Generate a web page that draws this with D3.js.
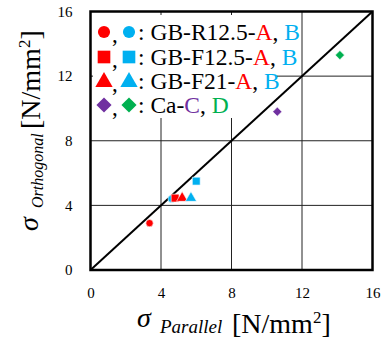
<!DOCTYPE html>
<html>
<head>
<meta charset="utf-8">
<script src="https://cdn.jsdelivr.net/npm/d3@7"></script>
<style>
  html, body { margin: 0; padding: 0; background: #fff; }
  svg { display: block; }
  svg text { font-family: "Liberation Serif", "Times New Roman", serif; }
</style>
</head>
<body>
<svg id="chart" width="385" height="338"></svg>
<script>
// Tick values for both axes
const ticks = [0, 4, 8, 12, 16];

// Specimen groups: parallel vs orthogonal strength [N/mm2]
const groupNames = ["GB-R12.5", "GB-F12.5", "GB-F21", "Ca"];
const shapes = ["circle", "square", "triangle", "diamond"];
const seriesA = [
  { group: "GB-R12.5", x: 3.35, y: 2.9 },
  { group: "GB-F12.5", x: 4.8, y: 4.45 },
  { group: "GB-F21", x: 5.2, y: 4.45 }
];
const seriesB = [
  { group: "GB-R12.5", x: 4.6, y: 4.4 },
  { group: "GB-F12.5", x: 6.0, y: 5.5 },
  { group: "GB-F21", x: 5.7, y: 4.45 }
];
const seriesC = [{ group: "Ca", x: 10.6, y: 9.8 }];
const seriesD = [{ group: "Ca", x: 14.15, y: 13.3 }];

const colA = "#ff0000", colB = "#00b0f0", colC = "#7030a0", colD = "#00b050";

const svg = d3.select("#chart");
const x = d3.scaleLinear().domain([0, 16]).range([90.5, 372.5]);
const y = d3.scaleLinear().domain([0, 16]).range([270, 11.5]);

// grid
const grid = svg.append("g");
grid.selectAll(".gx").data(ticks.slice(1, -1)).join("line")
  .attr("x1", d => x(d)).attr("x2", d => x(d))
  .attr("y1", y(16)).attr("y2", y(0))
  .attr("stroke", "#222").attr("stroke-width", 1);
grid.selectAll(".gy").data(ticks.slice(1, -1)).join("line")
  .attr("y1", d => y(d)).attr("y2", d => y(d))
  .attr("x1", x(0)).attr("x2", x(16))
  .attr("stroke", "#222").attr("stroke-width", 1);

// legend background
svg.append("rect").attr("x", 93).attr("y", 15).attr("width", 184).attr("height", 103).attr("fill", "#fff");

// 1:1 line
svg.append("line")
  .attr("x1", x(0)).attr("y1", y(0)).attr("x2", x(16)).attr("y2", y(16))
  .attr("stroke", "#000").attr("stroke-width", 2);

// frame
svg.append("rect")
  .attr("x", x(0)).attr("y", y(16))
  .attr("width", x(16) - x(0)).attr("height", y(0) - y(16))
  .attr("fill", "none").attr("stroke", "#000").attr("stroke-width", 2.5);

// axes tick labels via d3 axes
const xAxis = svg.append("g").attr("transform", `translate(0,${y(0) + 17})`)
  .call(d3.axisBottom(x).tickValues(ticks).tickSize(0).tickPadding(0));
const yAxis = svg.append("g").attr("transform", `translate(${x(0) - 18},0)`)
  .call(d3.axisLeft(y).tickValues(ticks).tickSize(0).tickPadding(0));
[xAxis, yAxis].forEach(a => {
  a.attr("font-family", null);
  a.select(".domain").remove();
  a.selectAll("text").style("font-family", "'Liberation Serif', serif").style("font-size", "15px").attr("fill", "#000");
});

// marker paths; diamonds are squares turned by 45 degrees
function markerPath(shape, size) {
  if (shape === "diamond") return d3.symbol().type(d3.symbolSquare).size(size)();
  const t = { circle: d3.symbolCircle, square: d3.symbolSquare, triangle: d3.symbolTriangle }[shape];
  return d3.symbol().type(t).size(size)();
}
const rot = shape => shape === "diamond" ? " rotate(45)" : "";
const plotSize = { circle: 42, square: 62, triangle: 55, diamond: 42 };
const shapeOf = g => shapes[groupNames.indexOf(g)];

function drawSeries(data, color) {
  svg.append("g").selectAll("path").data(data).join("path")
    .attr("transform", d => `translate(${x(d.x)},${y(d.y)})` + rot(shapeOf(d.group)))
    .attr("d", d => markerPath(shapeOf(d.group), plotSize[shapeOf(d.group)]))
    .attr("fill", color)
    .attr("stroke", "#fff").attr("stroke-width", 0.6);
}
drawSeries(seriesB.filter(d => d.group === "GB-R12.5"), colB);
drawSeries(seriesA, colA);
drawSeries(seriesB.filter(d => d.group !== "GB-R12.5"), colB);
drawSeries(seriesC, colC);
drawSeries(seriesD, colD);

// legend
const legendLetters = [["A", "B"], ["A", "B"], ["A", "B"], ["C", "D"]];
const legendCols = [[colA, colB], [colA, colB], [colA, colB], [colC, colD]];
const legendSize = { circle: 115, square: 160, triangle: 130, diamond: 115 };
const rowY = [32, 57, 81, 105];
groupNames.forEach((g, i) => {
  const sh = shapes[i];
  const cy = rowY[i];
  [104, 129].forEach((cx, k) => {
    svg.append("path")
      .attr("transform", `translate(${cx},${cy + (sh === "triangle" ? 1 : 0)})` + rot(sh))
      .attr("d", markerPath(sh, legendSize[sh]))
      .attr("fill", legendCols[i][k]);
  });
  svg.append("text").attr("x", 112).attr("y", cy + 10).style("font-size", "23px").text(",");
  const t = svg.append("text").attr("x", 138).attr("y", cy + 8).style("font-size", "23.5px");
  t.append("tspan").text(": " + g + "-");
  t.append("tspan").attr("fill", legendCols[i][0]).text(legendLetters[i][0]);
  t.append("tspan").text(", ");
  t.append("tspan").attr("fill", legendCols[i][1]).text(legendLetters[i][1]);
});

// x axis title
svg.append("text").attr("x", 137).attr("y", 327).style("font-size", "28px").style("font-style", "italic").text("σ");
svg.append("text").attr("x", 160).attr("y", 333).style("font-size", "19px").style("font-style", "italic").text("Parallel");
const xu = svg.append("text").attr("x", 232).attr("y", 333).style("font-size", "28px");
xu.append("tspan").text("[N/mm");
xu.append("tspan").style("font-size", "17px").attr("dy", -10).text("2");
xu.append("tspan").attr("dy", 10).text("]");

// y axis title
const yt = svg.append("g").attr("transform", "translate(40,0) rotate(-90)");
yt.append("text").attr("x", -231).attr("y", -2).style("font-size", "28px").style("font-style", "italic").text("σ");
yt.append("text").attr("x", -208).attr("y", 3).style("font-size", "16px").style("font-style", "italic").text("Orthogonal");
const yu = yt.append("text").attr("x", -129).attr("y", 0).style("font-size", "28px");
yu.append("tspan").text("[N/mm");
yu.append("tspan").style("font-size", "17px").attr("dy", -10).text("2");
yu.append("tspan").attr("dy", 10).text("]");
</script>
</body>
</html>
